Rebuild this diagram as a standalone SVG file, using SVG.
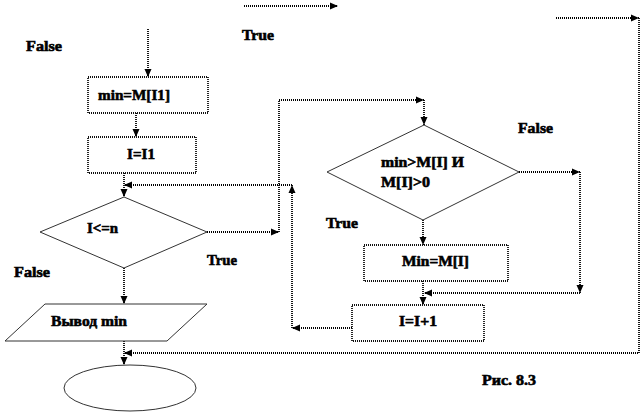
<svg xmlns="http://www.w3.org/2000/svg" width="642" height="414" viewBox="0 0 642 414">
<defs>
<marker id="ah" markerUnits="userSpaceOnUse" markerWidth="8" markerHeight="8" viewBox="0 0 8 8" refX="8" refY="4" orient="auto">
<path d="M0,0.5 L8,4 L0,7.5 Z" fill="#000"/>
</marker>
</defs>
<style>
.box{fill:#fff;stroke:#111;stroke-width:1.8;stroke-dasharray:1 1}
.dia{fill:#fff;stroke:#333;stroke-width:1}
.c{fill:none;stroke:#000;stroke-width:1.8;stroke-dasharray:1 1}
.a{marker-end:url(#ah)}
text{font-family:"Liberation Serif","Times New Roman",serif;font-weight:bold;font-size:15px;fill:#000;stroke:#000;stroke-width:0.6}
</style>
<rect width="642" height="414" fill="#fff"/>
<g id="connectors">
<line class="c a" x1="244" y1="6" x2="338" y2="6"/>
<line class="c a" x1="148" y1="29" x2="148" y2="77"/>
<line class="c a" x1="136" y1="113" x2="136" y2="137"/>
<line class="c a" x1="124" y1="173" x2="124" y2="197"/>
<line class="c a" x1="124" y1="268" x2="124" y2="304"/>
<line class="c a" x1="124" y1="341" x2="124" y2="365"/>
<line class="c a" x1="207" y1="232" x2="279" y2="232"/>
<polyline class="c a" points="279,232 279,100 424,100"/>
<line class="c a" x1="424" y1="100" x2="424" y2="125"/>
<line class="c a" x1="519" y1="172" x2="580" y2="172"/>
<line class="c a" x1="580" y1="172" x2="580" y2="293"/>
<line class="c a" x1="580" y1="293" x2="424" y2="293"/>
<line class="c a" x1="423" y1="220" x2="423" y2="245"/>
<line class="c a" x1="423" y1="281" x2="423" y2="305"/>
<line class="c a" x1="352" y1="328" x2="292" y2="328"/>
<line class="c a" x1="292" y1="328" x2="292" y2="185"/>
<line class="c a" x1="292" y1="185" x2="124" y2="185"/>
<line class="c a" x1="556" y1="18" x2="639" y2="18"/>
<polyline class="c a" points="639,18 639,353 124,353"/>
</g>
<g id="n_min">
<rect class="box" x="88" y="77" width="120" height="36"/>
<text x="98" y="100" textLength="72" lengthAdjust="spacingAndGlyphs">min=M[I1]</text>
</g>
<g id="n_i1">
<rect class="box" x="88" y="137" width="108" height="36"/>
<text x="127" y="159" textLength="28" lengthAdjust="spacingAndGlyphs">I=I1</text>
</g>
<g id="n_cond1">
<polygon class="dia" points="40,232 124,197 207,232 124,268"/>
<text x="87" y="233" textLength="31" lengthAdjust="spacingAndGlyphs">I&lt;=n</text>
</g>
<g id="n_out">
<polygon class="dia" points="45,304 207,304 167,341 5,341"/>
<text x="51" y="326" textLength="76" lengthAdjust="spacingAndGlyphs">Вывод min</text>
</g>
<g id="n_end">
<ellipse class="dia" cx="130" cy="388" rx="66" ry="23"/>
</g>
<g id="n_cond2">
<polygon class="dia" points="327,172 424,125 519,172 423,220"/>
<text x="381" y="167" textLength="83" lengthAdjust="spacingAndGlyphs">min&gt;M[I]  И</text>
<text x="381" y="187" textLength="49" lengthAdjust="spacingAndGlyphs">M[I]&gt;0</text>
</g>
<g id="n_assign">
<rect class="box" x="364" y="245" width="144" height="36"/>
<text x="402" y="266" textLength="67" lengthAdjust="spacingAndGlyphs">Min=M[I]</text>
</g>
<g id="n_inc">
<rect class="box" x="352" y="305" width="132" height="36"/>
<text x="399" y="326" textLength="38" lengthAdjust="spacingAndGlyphs">I=I+1</text>
</g>
<g id="labels">
<text x="26" y="51" textLength="36" lengthAdjust="spacingAndGlyphs">False</text>
<text x="242" y="40" textLength="32" lengthAdjust="spacingAndGlyphs">True</text>
<text x="207" y="265" textLength="30" lengthAdjust="spacingAndGlyphs">True</text>
<text x="14" y="277" textLength="36" lengthAdjust="spacingAndGlyphs">False</text>
<text x="518" y="133" textLength="35" lengthAdjust="spacingAndGlyphs">False</text>
<text x="326" y="228" textLength="32" lengthAdjust="spacingAndGlyphs">True</text>
<text x="482" y="385" textLength="54" lengthAdjust="spacingAndGlyphs">Рис. 8.3</text>
</g>
</svg>
